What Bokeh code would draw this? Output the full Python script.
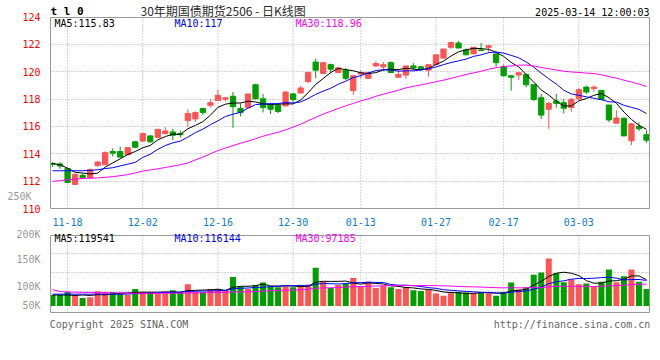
from bokeh.plotting import figure
from bokeh.layouts import column
from bokeh.models import Range1d, FixedTicker, Label, ColumnDataSource, LinearAxis, Grid
from bokeh.embed import file_html
from bokeh.resources import INLINE

# ---------------- data ----------------
dates = ["11-14","11-15","11-18","11-19","11-20","11-21","11-22","11-25","11-26","11-27","11-28","11-29",
         "12-02","12-03","12-04","12-05","12-06","12-09","12-10","12-11","12-12","12-13",
         "12-16","12-17","12-18","12-19","12-20","12-23","12-24","12-25","12-26","12-27",
         "12-30","12-31","01-02","01-03","01-06","01-07","01-08","01-09","01-10",
         "01-13","01-14","01-15","01-16","01-17","01-20","01-21","01-22","01-23","01-24",
         "01-27","02-05","02-06","02-07","02-10","02-11","02-12","02-13","02-14",
         "02-17","02-18","02-19","02-20","02-21","02-24","02-25","02-26","02-27","02-28",
         "03-03","03-04","03-05","03-06","03-07","03-10","03-11","03-12","03-13","03-14"]

opens = [113.30,113.26,112.93,111.76,112.43,112.26,113.14,113.20,114.17,114.17,
         113.93,114.88,114.93,115.31,115.19,115.48,115.60,115.48,116.43,116.55,
         117.31,117.55,117.90,118.00,118.21,117.31,117.38,119.05,118.02,117.62,
         117.55,117.50,118.38,118.45,119.29,120.71,119.88,120.52,119.95,120.12,
         118.62,119.83,119.52,120.43,120.36,120.67,119.60,119.76,120.43,120.36,
         120.12,120.52,121.00,121.79,122.10,121.60,121.31,121.60,121.79,121.31,
         120.36,119.71,119.76,119.81,119.05,118.10,117.26,117.86,117.74,117.38,
         118.02,118.88,118.76,118.64,117.57,116.24,116.60,114.95,116.00,115.40]

closes = [113.22,113.10,111.90,112.50,112.26,112.86,113.40,114.10,114.05,113.76,
          114.45,114.48,115.48,114.88,115.79,115.67,115.36,115.40,116.95,117.02,
          117.02,117.74,118.28,118.10,117.45,117.02,118.38,118.02,117.38,117.26,
          117.10,118.52,117.98,118.81,119.95,120.12,120.67,120.19,120.29,119.52,
          119.71,119.93,119.93,120.60,120.52,119.95,119.81,120.43,120.29,120.19,
          120.52,121.24,121.67,122.14,121.74,121.24,121.79,121.55,121.90,120.67,
          119.71,119.60,119.93,119.05,117.98,116.83,117.69,117.69,117.33,117.98,
          118.69,118.52,118.88,117.98,116.48,116.62,115.31,116.19,115.83,115.00]

highs = [113.38,113.38,112.98,112.55,112.55,112.93,113.48,114.17,114.40,114.52,
         114.50,114.95,115.55,115.36,115.83,115.95,115.83,115.71,117.26,117.10,
         117.38,117.98,118.69,118.17,118.52,117.69,118.38,119.12,118.38,117.74,
         117.62,118.57,118.45,118.98,120.00,120.95,120.67,120.60,120.36,120.29,
         119.76,120.10,120.00,120.76,120.71,120.76,120.12,120.43,120.64,120.43,
         120.52,121.24,121.67,122.19,122.26,121.71,121.79,122.10,121.95,121.38,
         120.52,119.76,120.00,119.88,119.05,118.38,117.81,118.38,118.02,118.10,
         118.81,118.98,119.00,118.64,117.57,117.19,116.67,116.24,116.31,115.71]

lows = [113.05,112.90,111.90,111.76,112.19,112.19,113.05,113.20,113.81,113.76,
        113.93,114.40,114.88,114.81,115.19,115.40,115.00,115.19,115.95,116.31,
        116.83,117.38,117.90,117.83,115.90,116.74,117.38,117.98,117.02,116.90,
        116.98,117.50,117.74,118.40,119.17,119.52,119.88,119.88,119.88,119.40,
        118.33,119.52,119.52,120.36,120.05,119.93,119.60,119.48,120.12,120.12,
        119.64,120.52,121.00,121.67,121.71,121.24,121.31,121.55,121.43,120.36,
        119.64,118.62,119.40,118.86,117.86,116.55,115.83,117.38,116.95,117.07,
        117.98,118.38,118.52,117.98,116.31,116.24,115.31,114.64,115.67,114.81]

volumes = [49700,49700,63900,49700,36900,39800,66800,61000,64000,58000,
           50000,78000,64000,64000,57000,58000,72000,64000,99000,64000,
           64000,78000,78000,72000,132000,89000,78000,94000,107000,89000,
           85000,89000,85000,94000,98000,175000,111000,82000,96000,104000,
           128000,89000,111000,82000,92000,85000,78000,85000,72000,68000,
           75000,57000,47000,58000,64000,61000,58000,61000,64000,47000,
           64000,107000,75000,85000,143000,153000,217000,149000,107800,120600,
           99300,102300,89500,110800,166200,107800,135100,166200,110800,78000]

# moving-average values before enough in-window history exists
ma5_head = [113.30, 113.20, 112.95, 112.65]
ma10_head = [112.76, 112.76, 112.76, 112.76, 112.76, 112.78, 112.84, 112.92, 112.98]
ma30_head = [111.98, 112.04, 112.10, 112.15, 112.19, 112.22, 112.24, 112.28, 112.33, 112.40,
             112.48, 112.60, 112.74, 112.82, 112.90, 113.00, 113.10, 113.20, 113.33, 113.55,
             113.76, 114.00, 114.24, 114.42, 114.60, 114.77, 114.93, 115.10, 115.29]
vma5_head = [50000, 50000, 50000, 48000]
vma10_head = [54000, 54000, 54000, 54000, 54000, 54000, 54000, 54000, 54000]
vma30_head = [75000, 66000, 64000, 63000, 62000, 62000, 61000, 61000, 60000, 60000,
              59000, 58000, 58000, 58000, 58000, 58000, 58000, 58000, 59000, 59000,
              60000, 61000, 62000, 63000, 64000, 64000, 65000, 66000, 67000]

price_ma_text = ["MA5:115.83", "MA10:117", "MA30:118.96"]
vol_ma_text = ["MA5:119541", "MA10:116144", "MA30:97185"]
price_ticks = [110, 112, 114, 116, 118, 120, 122, 124]
tick_dates = ["11-18", "12-02", "12-16", "12-30", "01-13", "01-27", "02-17", "03-03"]
vol_tick_labels = ["50K", "100K", "150K", "200K"]
extra_vol_label = "250K"
title_text = "30年期国债期货2506 - 日K线图"
symbol_text = "t l 0"
stamp_text = "2025-03-14 12:00:03"
footer_texts = ["Copyright 2025 SINA.COM", "http://finance.sina.com.cn"]

# ---------------- derived ----------------
def moving(vals, n, head):
    out = list(head)
    for i in range(len(head), len(vals)):
        out.append(sum(vals[i - n + 1:i + 1]) / n)
    return out

n = len(dates)
idx = list(range(n))
RED = "#ff5454"
GREEN = "#009f00"
colors = [RED if c >= o else GREEN for o, c in zip(opens, closes)]
src = ColumnDataSource(dict(
    x=idx, o=opens, c=closes, h=highs, l=lows,
    top=[max(o, c) for o, c in zip(opens, closes)],
    bot=[min(o, c) for o, c in zip(opens, closes)],
    color=colors, vol=volumes,
    ma5=moving(closes, 5, ma5_head), ma10=moving(closes, 10, ma10_head), ma30=moving(closes, 30, ma30_head),
    vma5=moving(volumes, 5, vma5_head), vma10=moving(volumes, 10, vma10_head), vma30=moving(volumes, 30, vma30_head),
))
tick_idx = [dates.index(d) for d in tick_dates]
k = len(tick_idx)

MONO = "DejaVu Sans Mono"
GRID = "#a8a8a8"
BORDER = "#9a9a9a"
xr = Range1d(-0.27, 79.4)

# layout constants (pixels -> data)
PX_PER_PT = 14.0                     # price panel: pixels per price unit
P_TOP = price_ticks[-1]
P_LO = price_ticks[0]
P_HI = P_LO + 213 / PX_PER_PT        # frame extends above the panel border for the header row
V_PER_PX = 4260.0                    # volume panel: contracts per pixel
V_LO = -7 * V_PER_PX
V_HI = 83 * V_PER_PX
V_BORDER = 76 * V_PER_PX             # top border of the volume panel


def style_border_axis(ax, bounds):
    ax.bounds = bounds
    ax.axis_line_color = BORDER
    ax.major_tick_line_color = None
    ax.minor_tick_line_color = None


# ---------------- price panel ----------------
p = figure(width=652, height=228, x_range=xr, y_range=Range1d(P_LO, P_HI),
           output_backend="svg", toolbar_location=None,
           min_border_left=50, min_border_right=3, min_border_top=0, min_border_bottom=15)
p.outline_line_color = None
p.background_fill_color = "white"
p.border_fill_color = "white"

# grid
p.xgrid.grid_line_color = None
p.ygrid.ticker = FixedTicker(ticks=price_ticks[1:-1])
p.ygrid.grid_line_color = GRID
p.ygrid.grid_line_dash = "1 2"
p.segment(x0=tick_idx, y0=[P_LO] * k, x1=tick_idx, y1=[P_TOP] * k,
          line_color=GRID, line_dash="1 2", line_width=1)
p.add_layout(Grid(dimension=1, ticker=FixedTicker(ticks=[P_TOP]), grid_line_color=BORDER))

# candles + moving averages
p.segment(x0="x", y0="l", x1="x", y1="h", color="color", line_width=1, source=src)
p.vbar(x="x", width=0.7, top="top", bottom="bot", fill_color="color", line_color="color", line_width=1, source=src)
p.line("x", "ma5", color="black", line_width=1, source=src)
p.line("x", "ma10", color="#0000ff", line_width=1, source=src)
p.line("x", "ma30", color="#ff00ff", line_width=1, source=src)

# axes
style_border_axis(p.yaxis[0], (P_LO, P_TOP))
p.yaxis.ticker = FixedTicker(ticks=price_ticks)
p.yaxis.major_label_text_color = "#ff0000"
p.yaxis.major_label_text_font = MONO
p.yaxis.major_label_text_font_size = "10px"
p.yaxis.major_label_standoff = 4

vol_in_price = LinearAxis(ticker=FixedTicker(ticks=[110.88]),
                          major_label_overrides={110.88: extra_vol_label},
                          major_label_text_color="#999999", major_label_text_font=MONO,
                          major_label_text_font_size="10px", major_label_standoff=-18,
                          axis_line_color=None, major_tick_line_color=None, minor_tick_line_color=None)
p.add_layout(vol_in_price, "left")

right_p = LinearAxis(ticker=FixedTicker(ticks=[]), major_label_text_font_size="0px")
style_border_axis(right_p, (P_LO, P_TOP))
p.add_layout(right_p, "right")

p.xaxis.ticker = FixedTicker(ticks=tick_idx)
p.xaxis.major_label_overrides = {i: d for i, d in zip(tick_idx, tick_dates)}
p.xaxis.major_label_text_color = "#0a80d2"
p.xaxis.major_label_text_font = MONO
p.xaxis.major_label_text_font_size = "10px"
p.xaxis.major_label_standoff = 3
p.xaxis.major_tick_line_color = None
p.xaxis.minor_tick_line_color = None
p.xaxis.axis_line_color = BORDER

# header + MA texts
ma_colors = ["black", "#0000ff", "#ff00ff"]
ma_x = [0.26, 16.22, 32.31]
for t, c, xx in zip(price_ma_text, ma_colors, ma_x):
    p.add_layout(Label(x=xx, y=123.5, text=t, text_color=c, text_font=MONO,
                       text_font_size="10px", text_baseline="middle", text_align="left"))
p.add_layout(Label(x=-0.27, y=124.43, text=symbol_text, text_color="black", text_font=MONO,
                   text_font_size="11px", text_font_style="bold", text_baseline="middle"))
p.add_layout(Label(x=11.7, y=124.45, text=title_text, text_color="#2a2a2a", text_font="Noto Sans CJK SC",
                   text_font_size="12px", text_baseline="middle"))
p.add_layout(Label(x=79.4, y=124.34, text=stamp_text, text_color="black", text_font=MONO,
                   text_font_size="10px", text_baseline="middle", text_align="right"))

# ---------------- volume panel ----------------
pv = figure(width=652, height=104, x_range=xr, y_range=Range1d(V_LO, V_HI),
            output_backend="svg", toolbar_location=None,
            min_border_left=50, min_border_right=3, min_border_top=0, min_border_bottom=14)
pv.outline_line_color = None
pv.background_fill_color = "white"
pv.border_fill_color = "white"

pv.xgrid.grid_line_color = None
pv.ygrid.ticker = FixedTicker(ticks=[68160, 153360, 238560])
pv.ygrid.grid_line_color = GRID
pv.ygrid.grid_line_dash = "1 2"
pv.segment(x0=tick_idx, y0=[V_LO] * k, x1=tick_idx, y1=[V_BORDER] * k,
           line_color=GRID, line_dash="1 2", line_width=1)
pv.add_layout(Grid(dimension=1, ticker=FixedTicker(ticks=[V_BORDER]), grid_line_color=BORDER))

pv.vbar(x="x", width=0.8, top="vol", bottom=0, fill_color="color", line_color=None, source=src)
pv.line("x", "vma5", color="black", line_width=1, source=src)
pv.line("x", "vma10", color="#0000ff", line_width=1, source=src)
pv.line("x", "vma30", color="#ff00ff", line_width=1, source=src)

vol_ticks = [4260, 89460, 214280, 336000]
style_border_axis(pv.yaxis[0], (V_LO, V_BORDER))
pv.yaxis.ticker = FixedTicker(ticks=vol_ticks)
pv.yaxis.major_label_overrides = {t: s for t, s in zip(vol_ticks, vol_tick_labels)}
pv.yaxis.major_label_text_color = "#999999"
pv.yaxis.major_label_text_font = MONO
pv.yaxis.major_label_text_font_size = "10px"
pv.yaxis.major_label_standoff = 4

right_v = LinearAxis(ticker=FixedTicker(ticks=[]), major_label_text_font_size="0px")
style_border_axis(right_v, (V_LO, V_BORDER))
pv.add_layout(right_v, "right")

footer_x = [8.84, 69.09]
pv.xaxis.ticker = FixedTicker(ticks=footer_x)
pv.xaxis.major_label_overrides = {t: s for t, s in zip(footer_x, footer_texts)}
pv.xaxis.major_label_text_color = "#666666"
pv.xaxis.major_label_text_font = MONO
pv.xaxis.major_label_text_font_size = "10px"
pv.xaxis.major_label_standoff = 0
pv.xaxis.major_tick_line_color = None
pv.xaxis.minor_tick_line_color = None
pv.xaxis.axis_line_color = BORDER

for t, c, xx in zip(vol_ma_text, ma_colors, ma_x):
    pv.add_layout(Label(x=xx, y=309700, text=t, text_color=c, text_font=MONO,
                        text_font_size="10px", text_baseline="middle", text_align="left"))

layout = column(p, pv, spacing=0)
open("out.html", "w").write(file_html(layout, INLINE))
